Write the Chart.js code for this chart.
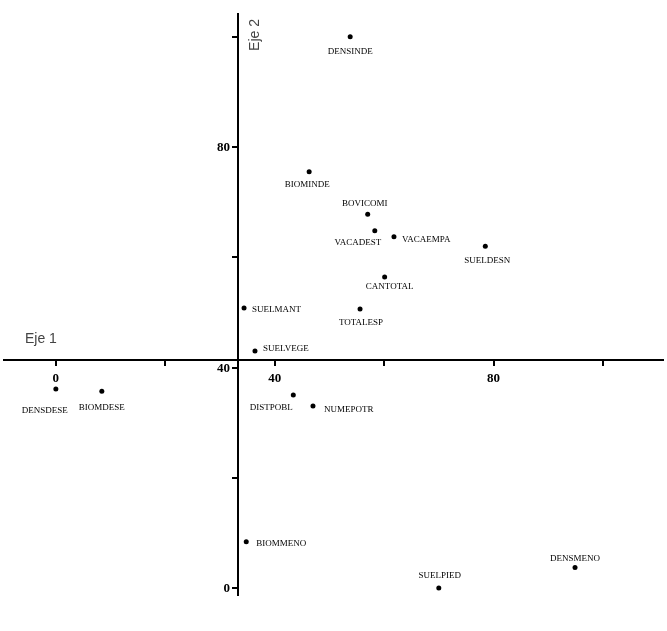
<!DOCTYPE html>
<html>
<head>
<meta charset="utf-8">
<script src="https://cdn.jsdelivr.net/npm/chart.js@4.4.1/dist/chart.umd.min.js"></script>
<style>
  html, body { margin: 0; padding: 0; background: #fff; }
  #wrap { width: 667px; height: 631px; }
</style>
</head>
<body>
<div id="wrap"><canvas id="chart"></canvas></div>
<script>
// variables of the factorial plane (Eje 1 x Eje 2)
const varNames = ['DENSINDE', 'BIOMINDE', 'BOVICOMI', 'VACADEST', 'VACAEMPA', 'SUELDESN',
                  'CANTOTAL', 'SUELMANT', 'TOTALESP', 'SUELVEGE', 'DENSDESE', 'BIOMDESE',
                  'DISTPOBL', 'NUMEPOTR', 'BIOMMENO', 'SUELPIED', 'DENSMENO'];
const eje1 = [53.8, 46.3, 57.0, 58.3, 61.8, 78.5, 60.1, 34.4, 55.6, 36.4, 0.0, 8.4, 43.4, 47.0, 34.8, 70.0, 94.9];
const eje2 = [100.0, 75.5, 67.8, 64.8, 63.7, 62.0, 56.4, 50.8, 50.6, 43.0, 36.1, 35.7, 35.0, 33.0, 8.4, 0.0, 3.7];

const tickValues = [0, 20, 40, 60, 80, 100];
const labelledTicks = [0, 40, 80];

// where the axes cross each other
const crossX = 33.3;
const crossY = 41.36;

// label placement next to each dot: [dx, dy, align]
const nameOffsets = [
    [0, 15, 'center'], [-2, 13, 'center'], [-3, -11, 'center'], [-17, 12, 'center'],
    [8, 3, 'left'], [2, 14, 'center'], [5, 10, 'center'], [8, 2, 'left'],
    [1, 14, 'center'], [8, -2, 'left'], [-11, 22, 'center'], [0, 16, 'center'],
    [-22, 13, 'center'], [11, 4, 'left'], [10, 2, 'left'], [1, -12, 'center'],
    [0, -9, 'center']
];

const points = eje1.map((x, i) => ({ x: x, y: eje2[i] }));

const tickFont = { family: '"Liberation Serif"', size: 13, weight: 'bold' };

// draws the variable names, the y tick labels and the axis names
const pointNames = {
    id: 'pointNames',
    afterDatasetsDraw(chart) {
        const ctx = chart.ctx;
        const meta = chart.getDatasetMeta(0);
        const area = chart.chartArea;
        const xs = chart.scales.x;
        const ys = chart.scales.y;
        const axisX = xs.getPixelForValue(crossX);
        ctx.save();
        ctx.font = '9px "Liberation Serif"';
        ctx.fillStyle = '#000';
        ctx.textBaseline = 'middle';
        meta.data.forEach((pt, i) => {
            const off = nameOffsets[i];
            ctx.textAlign = off[2];
            ctx.fillText(varNames[i], pt.x + off[0], pt.y + off[1]);
        });

        // y tick labels, left of the tick marks
        ctx.font = 'bold 13px "Liberation Serif"';
        ctx.textAlign = 'right';
        labelledTicks.forEach(v => {
            ctx.fillText(String(v), axisX - 8, ys.getPixelForValue(v) + 1);
        });

        ctx.font = '14px "Liberation Sans"';
        ctx.fillStyle = '#444';
        ctx.textAlign = 'left';
        ctx.fillText('Eje 1', area.left + 21, ys.getPixelForValue(crossY) - 21);

        ctx.translate(axisX + 17, area.top + 21);
        ctx.rotate(-Math.PI / 2);
        ctx.textAlign = 'center';
        ctx.fillText('Eje 2', 0, 0);
        ctx.restore();
    }
};

function setTicks(scale) {
    scale.ticks = tickValues.map(v => ({ value: v }));
}

const axisGrid = {
    drawOnChartArea: false,
    drawTicks: true,
    tickLength: 5,
    color: '#000',
    lineWidth: 2
};

new Chart(document.getElementById('chart'), {
    type: 'scatter',
    data: {
        datasets: [{
            data: points,
            pointRadius: 2.5,
            pointBackgroundColor: '#000',
            pointBorderWidth: 0
        }]
    },
    options: {
        responsive: true,
        maintainAspectRatio: false,
        animation: false,
        layout: { padding: { left: 2, top: 14, right: 4, bottom: 36 } },
        plugins: {
            legend: { display: false },
            tooltip: { enabled: false }
        },
        scales: {
            x: {
                type: 'linear',
                min: -9.48,
                max: 110.98,
                position: { y: crossY },
                afterBuildTicks: setTicks,
                afterFit: s => { s.height = 0; },
                border: { display: true, color: '#000', width: 2 },
                grid: axisGrid,
                ticks: {
                    callback: v => labelledTicks.includes(v) ? String(v) : '',
                    font: tickFont, color: '#000', padding: 6, maxRotation: 0, autoSkip: false
                }
            },
            y: {
                type: 'linear',
                min: -1.27,
                max: 104.13,
                position: { x: crossX },
                afterBuildTicks: setTicks,
                afterFit: s => { s.width = 0; },
                border: { display: true, color: '#000', width: 2 },
                grid: axisGrid,
                // labels drawn by the plugin, tick marks stay
                ticks: { callback: () => '', autoSkip: false }
            }
        }
    },
    plugins: [pointNames]
});
</script>
</body>
</html>
